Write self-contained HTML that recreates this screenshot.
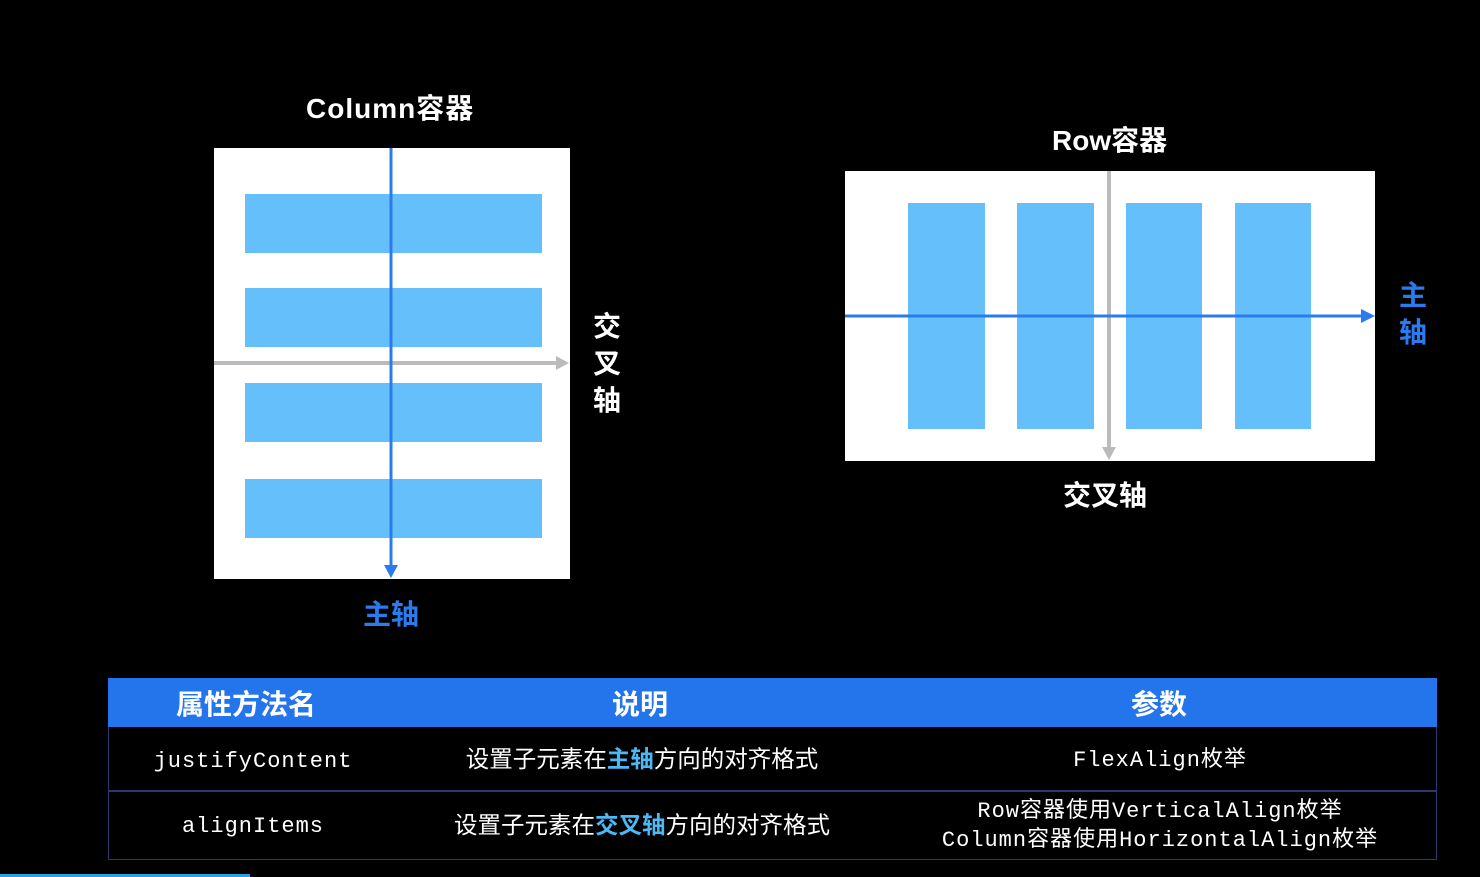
<!DOCTYPE html>
<html><head><meta charset="utf-8"><style>
body{margin:0;width:1480px;height:877px;background:#000;position:relative;overflow:hidden;font-family:"Liberation Sans","Noto Sans CJK SC",sans-serif}
.a{position:absolute}
.t{position:absolute;font-weight:bold;color:#fff;font-size:28px;white-space:nowrap;line-height:34px}
.bl{color:#2b7bef}
.bar{position:absolute;background:#64bffa}
.c{position:absolute;color:#fff;font-size:22px;text-align:center;white-space:nowrap;line-height:28px}
.m{font-family:"Liberation Mono","Noto Sans CJK SC",monospace;letter-spacing:1px}
.d{font-size:23.5px}
</style></head><body>
<div class="t" style="left:306px;top:92px;letter-spacing:1px">Column容器</div>
<div class="a" style="left:214px;top:148px;width:356px;height:431px;background:#fff"></div>
<div class="bar" style="left:245px;top:194px;width:297px;height:59px"></div>
<div class="bar" style="left:245px;top:288px;width:297px;height:59px"></div>
<div class="bar" style="left:245px;top:383px;width:297px;height:59px"></div>
<div class="bar" style="left:245px;top:479px;width:297px;height:59px"></div>
<svg class="a" style="left:0;top:0" width="1480" height="877">
<line x1="214" y1="363" x2="560" y2="363" stroke="#bbb" stroke-width="4"/>
<polygon points="569,363 556,356 556,370" fill="#bbb"/>
<line x1="391" y1="148" x2="391" y2="568" stroke="#2b7bef" stroke-width="3"/>
<polygon points="391,578 384,565 398,565" fill="#2b7bef"/>
</svg>
<div class="t" style="left:593px;top:308px;line-height:37px;width:30px">交<br>叉<br>轴</div>
<div class="t bl" style="left:363px;top:598px">主轴</div>

<div class="t" style="left:1052px;top:124px">Row容器</div>
<div class="a" style="left:845px;top:171px;width:530px;height:290px;background:#fff"></div>
<div class="bar" style="left:908px;top:203px;width:77px;height:226px"></div>
<div class="bar" style="left:1017px;top:203px;width:77px;height:226px"></div>
<div class="bar" style="left:1126px;top:203px;width:76px;height:226px"></div>
<div class="bar" style="left:1235px;top:203px;width:76px;height:226px"></div>
<svg class="a" style="left:0;top:0" width="1480" height="877">
<line x1="1109" y1="171" x2="1109" y2="450" stroke="#bbb" stroke-width="4"/>
<polygon points="1109,460 1102,447 1116,447" fill="#bbb"/>
<line x1="845" y1="316" x2="1364" y2="316" stroke="#2b7bef" stroke-width="3"/>
<polygon points="1375,316 1361,309 1361,323" fill="#2b7bef"/>
</svg>
<div class="t bl" style="left:1399px;top:277px;line-height:37px">主<br>轴</div>
<div class="t" style="left:1063px;top:479px">交叉轴</div>

<div class="a" style="left:108px;top:678px;width:1329px;height:49px;background:#2474ec"></div>
<div class="a" style="left:108px;top:727px;width:1327px;height:132px;border:1px solid #2a3a6a;border-top:none"></div>
<div class="a" style="left:108px;top:790px;width:1329px;height:2px;background:#2a3a6a"></div>
<div class="t" style="left:176px;top:688px">属性方法名</div>
<div class="t" style="left:612px;top:688px">说明</div>
<div class="t" style="left:1131px;top:688px">参数</div>
<div class="c m" style="left:108px;width:290px;top:748px">justifyContent</div>
<div class="c d" style="left:400px;width:484px;top:745px">设置子元素在<b style="color:#4cb8f5">主轴</b>方向的对齐格式</div>
<div class="c m" style="left:900px;width:520px;top:747px">FlexAlign枚举</div>
<div class="c m" style="left:108px;width:290px;top:813px">alignItems</div>
<div class="c d" style="left:400px;width:484px;top:811px">设置子元素在<b style="color:#4cb8f5">交叉轴</b>方向的对齐格式</div>
<div class="c m" style="left:900px;width:520px;top:797px;line-height:29px">Row容器使用VerticalAlign枚举<br>Column容器使用HorizontalAlign枚举</div>
<div class="a" style="left:0;top:874px;width:250px;height:3px;background:#2aa0e0"></div>
</body></html>
